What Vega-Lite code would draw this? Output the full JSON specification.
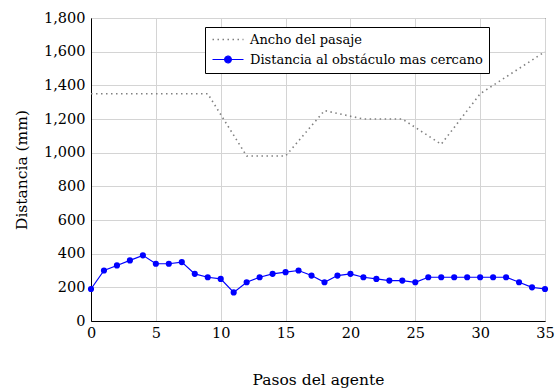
{
  "$schema": "https://vega.github.io/schema/vega-lite/v6.json",
  "autosize": {"type": "none"},
  "padding": {"left": 91, "top": 18, "right": 13, "bottom": 70},
  "width": 454,
  "height": 303,
  "background": "white",
  "config": {
    "font": "DejaVu Serif",
    "view": {"stroke": "black", "strokeWidth": 1},
    "axis": {
      "labelFont": "DejaVu Serif",
      "titleFont": "DejaVu Serif",
      "labelFontSize": 14.5,
      "titleFontSize": 15.5,
      "titleFontWeight": "normal",
      "labelColor": "black",
      "titleColor": "black",
      "domainColor": "black",
      "gridColor": "#d4d4d4",
      "gridWidth": 1,
      "ticks": false
    }
  },
  "data": {
    "values": [
      {"paso": 0, "mm": 1350, "serie": "Ancho del pasaje"},
      {"paso": 9, "mm": 1350, "serie": "Ancho del pasaje"},
      {"paso": 12, "mm": 980, "serie": "Ancho del pasaje"},
      {"paso": 15, "mm": 980, "serie": "Ancho del pasaje"},
      {"paso": 18, "mm": 1250, "serie": "Ancho del pasaje"},
      {"paso": 21, "mm": 1200, "serie": "Ancho del pasaje"},
      {"paso": 24, "mm": 1200, "serie": "Ancho del pasaje"},
      {"paso": 27, "mm": 1050, "serie": "Ancho del pasaje"},
      {"paso": 30, "mm": 1350, "serie": "Ancho del pasaje"},
      {"paso": 35, "mm": 1600, "serie": "Ancho del pasaje"},
      {"paso": 0, "mm": 190, "serie": "Distancia al obstáculo mas cercano"},
      {"paso": 1, "mm": 300, "serie": "Distancia al obstáculo mas cercano"},
      {"paso": 2, "mm": 330, "serie": "Distancia al obstáculo mas cercano"},
      {"paso": 3, "mm": 360, "serie": "Distancia al obstáculo mas cercano"},
      {"paso": 4, "mm": 390, "serie": "Distancia al obstáculo mas cercano"},
      {"paso": 5, "mm": 340, "serie": "Distancia al obstáculo mas cercano"},
      {"paso": 6, "mm": 340, "serie": "Distancia al obstáculo mas cercano"},
      {"paso": 7, "mm": 350, "serie": "Distancia al obstáculo mas cercano"},
      {"paso": 8, "mm": 280, "serie": "Distancia al obstáculo mas cercano"},
      {"paso": 9, "mm": 260, "serie": "Distancia al obstáculo mas cercano"},
      {"paso": 10, "mm": 250, "serie": "Distancia al obstáculo mas cercano"},
      {"paso": 11, "mm": 170, "serie": "Distancia al obstáculo mas cercano"},
      {"paso": 12, "mm": 230, "serie": "Distancia al obstáculo mas cercano"},
      {"paso": 13, "mm": 260, "serie": "Distancia al obstáculo mas cercano"},
      {"paso": 14, "mm": 280, "serie": "Distancia al obstáculo mas cercano"},
      {"paso": 15, "mm": 290, "serie": "Distancia al obstáculo mas cercano"},
      {"paso": 16, "mm": 300, "serie": "Distancia al obstáculo mas cercano"},
      {"paso": 17, "mm": 270, "serie": "Distancia al obstáculo mas cercano"},
      {"paso": 18, "mm": 230, "serie": "Distancia al obstáculo mas cercano"},
      {"paso": 19, "mm": 270, "serie": "Distancia al obstáculo mas cercano"},
      {"paso": 20, "mm": 280, "serie": "Distancia al obstáculo mas cercano"},
      {"paso": 21, "mm": 260, "serie": "Distancia al obstáculo mas cercano"},
      {"paso": 22, "mm": 250, "serie": "Distancia al obstáculo mas cercano"},
      {"paso": 23, "mm": 240, "serie": "Distancia al obstáculo mas cercano"},
      {"paso": 24, "mm": 240, "serie": "Distancia al obstáculo mas cercano"},
      {"paso": 25, "mm": 230, "serie": "Distancia al obstáculo mas cercano"},
      {"paso": 26, "mm": 260, "serie": "Distancia al obstáculo mas cercano"},
      {"paso": 27, "mm": 260, "serie": "Distancia al obstáculo mas cercano"},
      {"paso": 28, "mm": 260, "serie": "Distancia al obstáculo mas cercano"},
      {"paso": 29, "mm": 260, "serie": "Distancia al obstáculo mas cercano"},
      {"paso": 30, "mm": 260, "serie": "Distancia al obstáculo mas cercano"},
      {"paso": 31, "mm": 260, "serie": "Distancia al obstáculo mas cercano"},
      {"paso": 32, "mm": 260, "serie": "Distancia al obstáculo mas cercano"},
      {"paso": 33, "mm": 230, "serie": "Distancia al obstáculo mas cercano"},
      {"paso": 34, "mm": 200, "serie": "Distancia al obstáculo mas cercano"},
      {"paso": 35, "mm": 190, "serie": "Distancia al obstáculo mas cercano"}
    ]
  },
  "encoding": {
    "x": {
      "field": "paso",
      "type": "quantitative",
      "scale": {"domain": [0, 35], "nice": false, "zero": false},
      "axis": {
        "title": "Pasos del agente",
        "values": [0, 5, 10, 15, 20, 25, 30, 35],
        "labelPadding": 5,
        "titlePadding": 33,
        "labelFlush": false
      }
    },
    "y": {
      "field": "mm",
      "type": "quantitative",
      "scale": {"domain": [0, 1800], "nice": false},
      "axis": {
        "title": "Distancia (mm)",
        "values": [0, 200, 400, 600, 800, 1000, 1200, 1400, 1600, 1800],
        "format": ",d",
        "labelPadding": 6,
        "titlePadding": 14,
        "labelFlush": false
      }
    },
    "color": {
      "field": "serie",
      "type": "nominal",
      "scale": {
        "domain": ["Ancho del pasaje", "Distancia al obstáculo mas cercano"],
        "range": ["#808080", "#0000ff"]
      },
      "legend": {
        "orient": "none",
        "legendX": 114,
        "legendY": 9,
        "title": null,
        "strokeColor": "black",
        "fillColor": "white",
        "padding": 6,
        "rowPadding": 6,
        "labelFont": "DejaVu Serif",
        "labelFontSize": 13,
        "labelColor": "black",
        "labelLimit": 400,
        "labelOffset": 26,
        "symbolSize": 100,
        "symbolStrokeWidth": 1.3,
        "encode": {
          "symbols": {
            "update": {
              "shape": {"signal": "datum.value === 'Ancho del pasaje' ? 'M-1,0H5.2' : 'M-1,0H5.2M2.77,0A0.67,0.67 0 1,1 1.43,0A0.67,0.67 0 1,1 2.77,0Z'"},
              "fill": {"signal": "datum.value === 'Ancho del pasaje' ? 'transparent' : '#0000ff'"},
              "strokeDash": {"signal": "datum.value === 'Ancho del pasaje' ? [1.5, 3.5] : [1, 0]"},
              "strokeWidth": {"signal": "datum.value === 'Ancho del pasaje' ? 1.6 : 1.2"}
            }
          }
        }
      }
    }
  },
  "layer": [
    {
      "transform": [{"filter": "datum.serie === 'Ancho del pasaje'"}],
      "mark": {"type": "line", "strokeDash": [1.5, 3.5], "strokeWidth": 1.6}
    },
    {
      "transform": [{"filter": "datum.serie === 'Distancia al obstáculo mas cercano'"}],
      "mark": {"type": "line", "strokeWidth": 1.2}
    },
    {
      "transform": [{"filter": "datum.serie === 'Distancia al obstáculo mas cercano'"}],
      "mark": {"type": "point", "filled": true, "opacity": 1, "size": 38}
    }
  ]
}
